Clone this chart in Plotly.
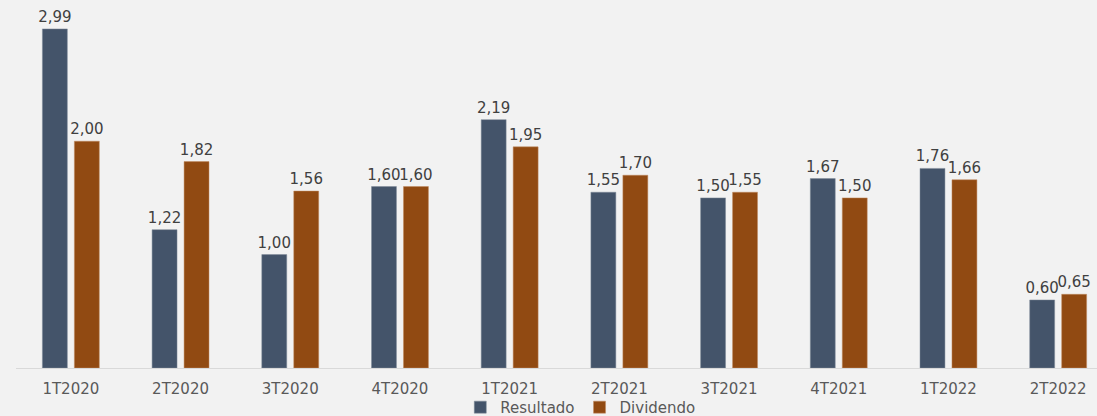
import plotly.graph_objects as go

categorias = ["1T2020", "2T2020", "3T2020", "4T2020", "1T2021", "2T2021", "3T2021", "4T2021", "1T2022", "2T2022"]
resultado = [2.99, 1.22, 1.00, 1.60, 2.19, 1.55, 1.50, 1.67, 1.76, 0.60]
dividendo = [2.00, 1.82, 1.56, 1.60, 1.95, 1.70, 1.55, 1.50, 1.66, 0.65]

def fmt(v):
    return f"{v:.2f}".replace(".", ",")

FONT = "DejaVu Sans"

fig = go.Figure()
fig.add_trace(go.Bar(
    name="Resultado", x=categorias, y=resultado,
    text=[fmt(v) for v in resultado], textposition="outside", constraintext="none",
    marker=dict(color="#44546A", line=dict(color="#7f8a99", width=0.5)),
    textfont=dict(family=FONT, color="#404040", size=15), cliponaxis=True,
))
fig.add_trace(go.Bar(
    name="Dividendo", x=categorias, y=dividendo,
    text=[fmt(v) for v in dividendo], textposition="outside", constraintext="none",
    marker=dict(color="#914A12", line=dict(color="#c08a60", width=0.5)),
    textfont=dict(family=FONT, color="#404040", size=15), cliponaxis=True,
))

fig.update_layout(
    width=1097, height=416,
    margin=dict(l=16, r=0, t=0, b=48, autoexpand=False),
    paper_bgcolor="#F2F2F2", plot_bgcolor="#F2F2F2",
    font=dict(family=FONT, color="#595959", size=15),
    barmode="group", bargap=0.417, bargroupgap=0.22,
    showlegend=True,
    legend=dict(orientation="h", x=0.522, xanchor="center", y=-0.107, yanchor="middle",
                font=dict(family=FONT, size=15, color="#595959"), itemwidth=30,
                bgcolor="rgba(0,0,0,0)"),
    xaxis=dict(range=[-0.5, 9.354], showline=True, linecolor="#D9D9D9", linewidth=1,
               ticks="", showgrid=False, automargin=False, ticklabelstandoff=7,
               tickfont=dict(family=FONT, size=15, color="#595959")),
    yaxis=dict(range=[0, 3.245], visible=False, showgrid=False, zeroline=False),
)

fig.write_html("out.html")
